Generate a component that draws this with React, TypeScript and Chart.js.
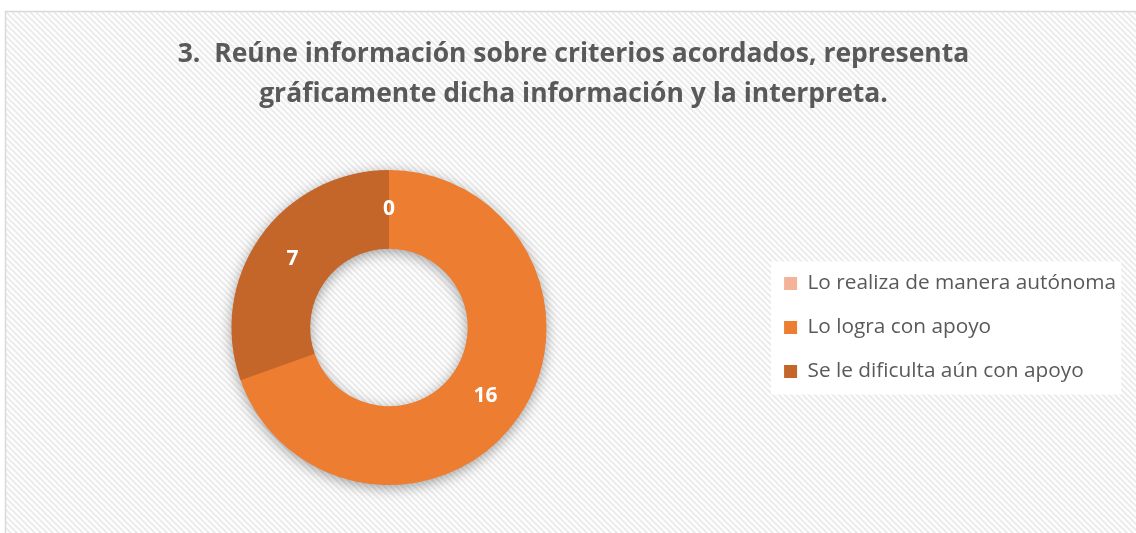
import React, { useEffect, useRef } from "react";
import { Chart, registerables } from "chart.js";

Chart.register(...registerables);

const titleLines = [
  "3.  Reúne información sobre criterios acordados, representa",
  "gráficamente dicha información y la interpreta.",
];
const categories = [
  "Lo realiza de manera autónoma",
  "Lo logra con apoyo",
  "Se le dificulta aún con apoyo",
];
const values = [0, 16, 7];
const colors = ["#F4B399", "#ED7D31", "#C4652A"];

const TEXT_COLOR = "#595959";
const FONT = "'Open Sans'";

const backgroundPlugin = {
  id: "bgHatch",
  beforeDraw(chart: any) {
    const { ctx, width, height } = chart;
    ctx.save();
    ctx.fillStyle = "#ffffff";
    ctx.fillRect(0, 0, width, height);
    const tile = document.createElement("canvas");
    tile.width = 6;
    tile.height = 6;
    const tctx = tile.getContext("2d")!;
    tctx.fillStyle = "#ffffff";
    tctx.fillRect(0, 0, 6, 6);
    tctx.strokeStyle = "#ececec";
    tctx.lineWidth = 2.2;
    for (const k of [-6, 0, 6]) {
      tctx.beginPath();
      tctx.moveTo(k - 1, -1);
      tctx.lineTo(k + 7, 7);
      tctx.stroke();
    }
    const pattern = ctx.createPattern(tile, "repeat");
    ctx.fillStyle = pattern;
    ctx.fillRect(5, 11, width, height);
    ctx.strokeStyle = "#d9d9d9";
    ctx.lineWidth = 1.5;
    ctx.strokeRect(5.5, 11.5, width + 10, height + 10);
    // legend backdrop
    const lg = chart.legend;
    if (lg) {
      const pad = lg.options.labels.padding;
      const x0 = lg.left + pad - 13;
      const midY = (lg.top + lg.bottom) / 2;
      ctx.fillStyle = "#ffffff";
      ctx.fillRect(x0, midY - 66, 350, 133);
    }
    ctx.restore();
  },
};

const shadowPlugin = {
  id: "ringShadow",
  beforeDatasetsDraw(chart: any) {
    const meta = chart.getDatasetMeta(0);
    const el = meta.data[1] as any;
    if (!el) return;
    const { ctx } = chart;
    ctx.save();
    ctx.shadowColor = "rgba(0,0,0,0.38)";
    ctx.shadowBlur = 14;
    ctx.shadowOffsetY = 3;
    ctx.fillStyle = "#ED7D31";
    ctx.beginPath();
    ctx.arc(el.x, el.y, el.outerRadius - 0.5, 0, Math.PI * 2);
    ctx.arc(el.x, el.y, el.innerRadius + 0.5, Math.PI * 2, 0, true);
    ctx.closePath();
    ctx.fill();
    ctx.restore();
  },
};

const labelsPlugin = {
  id: "arcLabels",
  afterDatasetsDraw(chart: any) {
    const meta = chart.getDatasetMeta(0);
    const { ctx } = chart;
    ctx.save();
    ctx.fillStyle = "#ffffff";
    ctx.font = `bold 21px ${FONT}`;
    ctx.textAlign = "center";
    ctx.textBaseline = "middle";
    meta.data.forEach((el: any, i: number) => {
      const p = el.tooltipPosition(false);
      ctx.fillText(String(chart.data.datasets[0].data[i]), p.x, p.y);
    });
    ctx.restore();
  },
};

function DonutChart() {
  const ref = useRef<HTMLCanvasElement | null>(null);
  useEffect(() => {
    let chart: Chart | null = null;
    let cancelled = false;
    const make = () => {
      if (cancelled || !ref.current) return;
      chart = new Chart(ref.current, {
        type: "doughnut",
        data: {
          labels: categories,
          datasets: [
            {
              data: values,
              backgroundColor: colors,
              borderWidth: 0,
            },
          ],
        },
        options: {
          responsive: false,
          animation: false,
          cutout: "50%",
          layout: { padding: { left: 17, right: 10, top: 170, bottom: 48 } },
          plugins: {
            title: { display: false },
            tooltip: { enabled: false },
            legend: {
              display: true,
              position: "right",
              labels: {
                color: TEXT_COLOR,
                font: { family: FONT, size: 20.8 },
                boxWidth: 13,
                boxHeight: 13,
                padding: 23.2,
              },
            },
          },
        },
        plugins: [backgroundPlugin, shadowPlugin, labelsPlugin],
      });
    };
    const fonts = (document as any).fonts;
    if (fonts && fonts.load) {
      Promise.all([
        fonts.load(`20px ${FONT}`),
        fonts.load(`bold 20px ${FONT}`),
      ])
        .catch(() => {})
        .then(make);
    } else {
      make();
    }
    return () => {
      cancelled = true;
      if (chart) chart.destroy();
    };
  }, []);
  return <canvas ref={ref} width={1136} height={533} style={{ display: "block" }} />;
}

export default function App() {
  return (
    <div style={{ position: "absolute", left: 0, top: 0, width: 1136, height: 533, overflow: "hidden" }}>
      <DonutChart />
      <div
        style={{
          position: "absolute",
          left: 5,
          width: 1137,
          top: 32,
          textAlign: "center",
          fontFamily: FONT,
          fontWeight: 700,
          fontSize: 26.5,
          lineHeight: "40px",
          color: TEXT_COLOR,
          whiteSpace: "pre",
        }}
      >
        {titleLines.map((l, i) => (
          <div key={i}>{l}</div>
        ))}
      </div>
    </div>
  );
}
